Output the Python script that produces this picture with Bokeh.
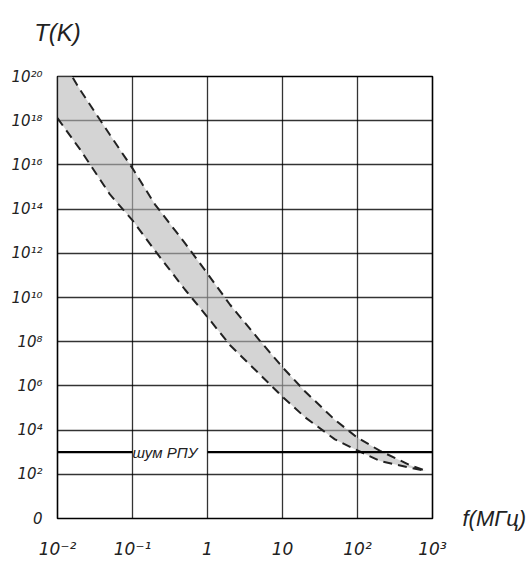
from bokeh.plotting import figure
from bokeh.models import FixedTicker, Label, LogAxis
from bokeh.embed import file_html
from bokeh.resources import INLINE

# --- data ---
freq_mhz = [0.01, 0.02, 0.05, 0.1, 0.2, 0.5, 1, 2, 5, 10, 20, 50, 100, 200, 500, 830]
t_upper = [1.3e21, 2.5e19, 2.3e17, 7e15, 1.6e14, 2.9e12, 1.2e11, 4.7e9, 1.1e8, 7e6,
           5.6e5, 2.9e4, 4.5e3, 1.15e3, 2.6e2, 1.4e2]
t_lower = [1.3e18, 5e16, 4.6e14, 3.1e13, 1.3e12, 2.3e10, 1.3e9, 6.9e7, 3.3e6, 3.2e5,
           3.8e4, 3.8e3, 1.2e3, 4e2, 2e2, 1.4e2]
noise_level = 1e3
noise_label = "шум РПУ"
noise_f_left = [0.01, 0.1]
noise_f_right = [1, 1000]

x_ticks = [0.01, 0.1, 1, 10, 100, 1000]
x_tick_labels = ["10⁻²", "10⁻¹", "1", "10", "10²", "10³"]
y_ticks = [1, 1e2, 1e4, 1e6, 1e8, 1e10, 1e12, 1e14, 1e16, 1e18, 1e20]
y_tick_labels = ["0", "10²", "10⁴", "10⁶", "10⁸", "10¹⁰", "10¹²", "10¹⁴", "10¹⁶", "10¹⁸", "10²⁰"]
y_title = "T(K)"
x_title = "f(МГц)"

TICK_FONT = "DejaVu Sans"
FONT = "Liberation Sans"

p = figure(width=529, height=564, x_axis_type="log", y_axis_type="log",
           x_range=(0.01, 1000), y_range=(1, 1e20),
           output_backend="svg", toolbar_location=None,
           min_border_left=57, min_border_top=76, min_border_right=95, min_border_bottom=46)

p.outline_line_color = "black"
p.outline_line_width = 1.6
p.background_fill_color = "white"
p.border_fill_color = "white"


def style_axis(ax, font, size, standoff):
    ax.axis_line_color = None
    ax.major_tick_line_color = None
    ax.minor_tick_line_color = None
    ax.major_label_text_font = font
    ax.major_label_text_font_style = "italic"
    ax.major_label_text_color = "#222222"
    ax.major_label_text_font_size = size
    ax.major_label_standoff = standoff


for ax, ticks, labels in ((p.xaxis[0], x_ticks, x_tick_labels), (p.yaxis[0], y_ticks, y_tick_labels)):
    ax.ticker = FixedTicker(ticks=ticks)
    ax.major_label_overrides = {float(t): lab for t, lab in zip(ticks, labels)}

style_axis(p.xaxis[0], TICK_FONT, "17px", 14)
style_axis(p.yaxis[0], TICK_FONT, "15px", 9)

# axis titles, placed as single labels of extra axes (not clipped by the frame)
y_title_axis = LogAxis(ticker=FixedTicker(ticks=[x_ticks[0]]),
                       major_label_overrides={float(x_ticks[0]): y_title})
style_axis(y_title_axis, FONT, "24px", 25)
p.add_layout(y_title_axis, "above")

x_title_axis = LogAxis(ticker=FixedTicker(ticks=[y_ticks[0]]),
                       major_label_overrides={float(y_ticks[0]): x_title})
style_axis(x_title_axis, FONT, "22px", 24)
p.add_layout(x_title_axis, "right")

for g in (p.xgrid[0], p.ygrid[0]):
    g.grid_line_color = "black"
    g.grid_line_alpha = 0.8
    g.grid_line_width = 1.3
    g.minor_grid_line_color = None

# band
p.varea(x=freq_mhz, y1=t_lower, y2=t_upper, fill_color="#b8b8b8", fill_alpha=0.6)
p.line(freq_mhz, t_upper, line_color="#222222", line_width=2, line_dash="9 6")
p.line(freq_mhz, t_lower, line_color="#222222", line_width=2, line_dash="9 6")

# receiver noise line
p.line(noise_f_left, [noise_level, noise_level], line_color="black", line_width=2.2)
p.line(noise_f_right, [noise_level, noise_level], line_color="black", line_width=2.2)
p.add_layout(Label(x=0.27, y=noise_level, text=noise_label, text_align="center",
                   text_baseline="middle", text_font=FONT, text_font_style="italic",
                   text_font_size="15px", text_color="#222222"))

open("out.html", "w").write(file_html(p, INLINE))
